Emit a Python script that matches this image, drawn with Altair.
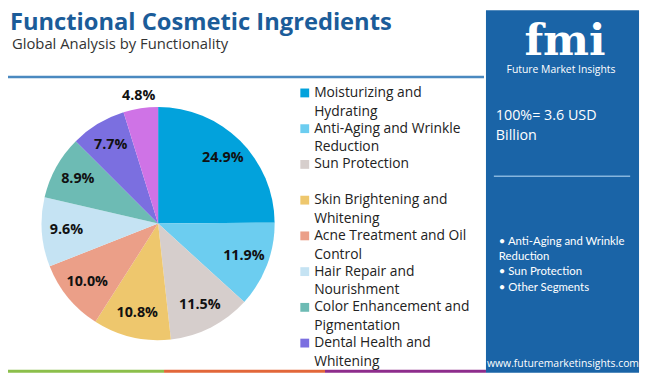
import altair as alt
import pandas as pd

# ---------------- data ----------------
segments = [
    "Moisturizing and Hydrating",
    "Anti-Aging and Wrinkle Reduction",
    "Sun Protection",
    "Skin Brightening and Whitening",
    "Acne Treatment and Oil Control",
    "Hair Repair and Nourishment",
    "Color Enhancement and Pigmentation",
    "Dental Health and Whitening",
    "Others",
]
shares = [24.9, 11.9, 11.5, 10.8, 10.0, 9.6, 8.9, 7.7, 4.8]
colors = ["#02a2dc", "#6ccdf0", "#d6cecc", "#eec76d", "#eb9f88",
          "#c5e3f3", "#6dbbb4", "#7b6fe0", "#cf73e6"]

legend_line1 = ["Moisturizing and", "Anti-Aging and Wrinkle", "Sun Protection",
                "Skin Brightening and", "Acne Treatment and Oil", "Hair Repair and",
                "Color Enhancement and", "Dental Health and"]
legend_line2 = ["Hydrating", "Reduction", "", "Whitening", "Control",
                "Nourishment", "Pigmentation", "Whitening"]

title_text = "Functional Cosmetic Ingredients"
subtitle_text = "Global Analysis by Functionality"
total_lines = ["100%= 3.6 USD", "Billion"]
bullets = ["• Anti-Aging and Wrinkle", "Reduction", "• Sun Protection", "• Other Segments"]
website = "www.futuremarketinsights.com"

# ---------------- layout ----------------
W, H = 642, 367
OX, OY = 8, 8  # page margin offset
CX, CY, R = 160 - OX, 224 - OY, 118
PANEL = "#1a64a7"

df = pd.DataFrame({
    "segment": segments,
    "share": shares,
    "idx": list(range(len(segments))),
    "label": [f"{s:.1f}%" for s in shares],
})
leg = pd.DataFrame({
    "segment": segments[:8],
    "line1": legend_line1,
    "line2": legend_line2,
    "idx": list(range(8)),
})
one = pd.DataFrame({"a": [0]})

color_scale = alt.Scale(domain=segments, range=colors)

base = alt.Chart(df).encode(
    theta=alt.Theta("share:Q", stack=True),
    order=alt.Order("idx:Q"),
)
arc = base.mark_arc(outerRadius=R, stroke=None).encode(
    color=alt.Color("segment:N", scale=color_scale, legend=None),
    x=alt.value(CX), y=alt.value(CY),
)
lab_in = base.mark_text(radius=93, fontSize=14.5, fontWeight="bold", font="Open Sans",
                        color="#111111").encode(
    text=alt.condition(alt.datum.idx < 8, "label:N", alt.value("")),
    x=alt.value(CX), y=alt.value(CY),
)
lab_out = base.mark_text(radius=131, fontSize=14.5, fontWeight="bold", font="Open Sans",
                         color="#111111").encode(
    text=alt.condition(alt.datum.idx == 8, "label:N", alt.value("")),
    x=alt.value(CX), y=alt.value(CY),
)

ly = alt.Y("idx:Q", scale=alt.Scale(domain=[0, 7], range=[91.7 - OY, 345 - OY],
                                    nice=False, zero=False), axis=None)
leg_sq = alt.Chart(leg).mark_square(size=80, opacity=1).encode(
    x=alt.value(308.5 - OX), y=ly,
    color=alt.Color("segment:N", scale=color_scale, legend=None),
)
leg_t1 = alt.Chart(leg).mark_text(align="left", baseline="middle", fontSize=14,
                                  font="Open Sans", color="#222222").encode(
    x=alt.value(318 - OX), y=ly, text="line1:N")
leg_t2 = alt.Chart(leg).mark_text(align="left", baseline="middle", fontSize=14,
                                  font="Open Sans", color="#222222", dy=19).encode(
    x=alt.value(318 - OX), y=ly, text="line2:N")


def txt(s, x, y, **kw):
    return alt.Chart(one).mark_text(text=s, **kw).encode(x=alt.value(x), y=alt.value(y))


def rect(x1, x2, y1, y2, c):
    return alt.Chart(one).mark_rect(color=c).encode(
        x=alt.value(x1), x2=alt.value(x2), y=alt.value(y1), y2=alt.value(y2))


title = txt(title_text, 10 - OX, 28 - OY, align="left", baseline="alphabetic",
            fontSize=24, fontWeight="bold", font="Open Sans", color="#1b5c99")
subtitle = txt(subtitle_text, 12 - OX, 47 - OY, align="left", baseline="alphabetic",
               fontSize=15, font="Open Sans", color="#333333")
header_rule = alt.Chart(one).mark_rule(color="#4a89c0", strokeWidth=2.5).encode(
    x=alt.value(5 - OX), x2=alt.value(490 - OX), y=alt.value(75.5 - OY))

bar_g = rect(2 - OX, 166 - OX, H - 3, H, "#8cbf4b")
bar_o = rect(166 - OX, 329 - OX, H - 3, H, "#e2673a")
bar_p = rect(329 - OX, 492 - OX, H - 3, H, "#8e2d8c")

panel = rect(492 - OX, 647 - OX, 0, H, PANEL)
logo = txt("fmi", 572 - OX, 53 - OY, align="center", baseline="alphabetic",
           fontSize=44, fontWeight="bold", font="DejaVu Serif", color="white")
logo_sub = txt("Future Market Insights", 568 - OX, 68 - OY, align="center",
               baseline="middle", fontSize=10.5, font="Open Sans", color="white")
tot1 = txt(total_lines[0], 502 - OX, 115 - OY, align="left", baseline="middle",
           fontSize=14.5, font="Open Sans", color="white")
tot2 = txt(total_lines[1], 502 - OX, 135 - OY, align="left", baseline="middle",
           fontSize=14.5, font="Open Sans", color="white")
panel_rule = alt.Chart(one).mark_rule(color="#86b5de", strokeWidth=1.5).encode(
    x=alt.value(500 - OX), x2=alt.value(638 - OX), y=alt.value(176 - OY))
bl = [txt(b, 505 - OX, y - OY, align="left", baseline="middle", fontSize=11.5,
          font="Lato", color="white")
      for b, y in zip(bullets, [243, 258, 273, 289])]
web = txt(website, 570 - OX, 366 - OY, align="center", baseline="middle",
          fontSize=10.5, font="Open Sans", color="white")

chart = alt.layer(
    header_rule, bar_g, bar_o, bar_p, panel,
    arc, lab_in, lab_out,
    leg_sq, leg_t1, leg_t2,
    title, subtitle, logo, logo_sub, tot1, tot2, panel_rule, *bl, web,
).properties(
    width=W, height=H, padding=0, autosize=alt.AutoSizeParams(type="none"),
    background="white",
).configure_view(stroke=None)

chart.save("out.html", embed_options={"renderer": "svg", "actions": False})
